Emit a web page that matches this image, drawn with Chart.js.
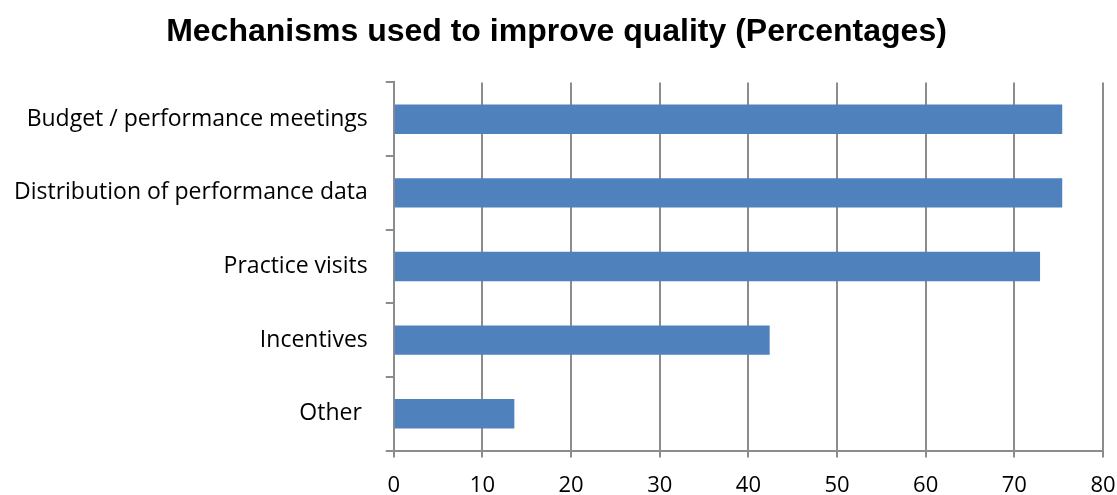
<!DOCTYPE html>
<html>
<head>
<meta charset="utf-8">
<script src="https://cdn.jsdelivr.net/npm/chart.js@4"></script>
<style>
  html, body { margin: 0; padding: 0; background: #fff; }
  #wrap { width: 1117px; height: 495px; }
</style>
</head>
<body>
<div id="wrap"><canvas id="chart"></canvas></div>
<script>
// datos
let categorias = ['Budget / performance meetings', 'Distribution of performance data', 'Practice visits', 'Incentives', 'Other '];
let porcentajes = [75.4, 75.4, 72.9, 42.4, 13.6];
let ticksX = [0, 10, 20, 30, 40, 50, 60, 70, 80];

let gris = '#8c8c8c';

var ctx = document.getElementById('chart').getContext('2d');
var chart = new Chart(ctx, {
  type: 'bar',
  data: {
    labels: categorias,
    datasets: [{
      data: porcentajes,
      backgroundColor: '#4f81bd',
      borderColor: '#4f81bd',
      borderWidth: 0,
      barPercentage: 0.4,
      categoryPercentage: 1
    }]
  },
  options: {
    indexAxis: 'y',
    responsive: true,
    maintainAspectRatio: false,
    animation: false,
    layout: { padding: { left: 10, right: 14, top: 13, bottom: 0 } },
    plugins: {
      legend: { display: false },
      tooltip: { enabled: false },
      title: {
        display: true,
        text: 'Mechanisms used to improve quality (Percentages)',
        color: '#000',
        font: { family: 'Liberation Sans', size: 32, weight: 'bold' },
        padding: { top: 0, bottom: 31 }
      }
    },
    scales: {
      x: {
        min: 0,
        max: 80,
        afterBuildTicks: (axis) => { axis.ticks = ticksX.map(v => ({ value: v })); },
        // el "80" sobresale por la derecha como en el original
        afterFit: (axis) => { axis.paddingRight = 0; axis.height -= 19; },
        grid: { color: gris, lineWidth: 2, tickLength: 7, drawTicks: true },
        border: { color: gris, width: 2 },
        ticks: {
          color: '#000',
          padding: 15,
          maxRotation: 0,
          font: { family: 'Open Sans', size: 22 }
        }
      },
      y: {
        offset: true,
        afterFit: (axis) => { axis.width -= 14; },
        grid: { offset: true, drawOnChartArea: false, color: gris, lineWidth: 2, tickLength: 8 },
        border: { color: gris, width: 2 },
        ticks: {
          color: '#000',
          padding: 18,
          font: { family: 'Open Sans', size: 23 }
        }
      }
    }
  }
});
</script>
</body>
</html>
